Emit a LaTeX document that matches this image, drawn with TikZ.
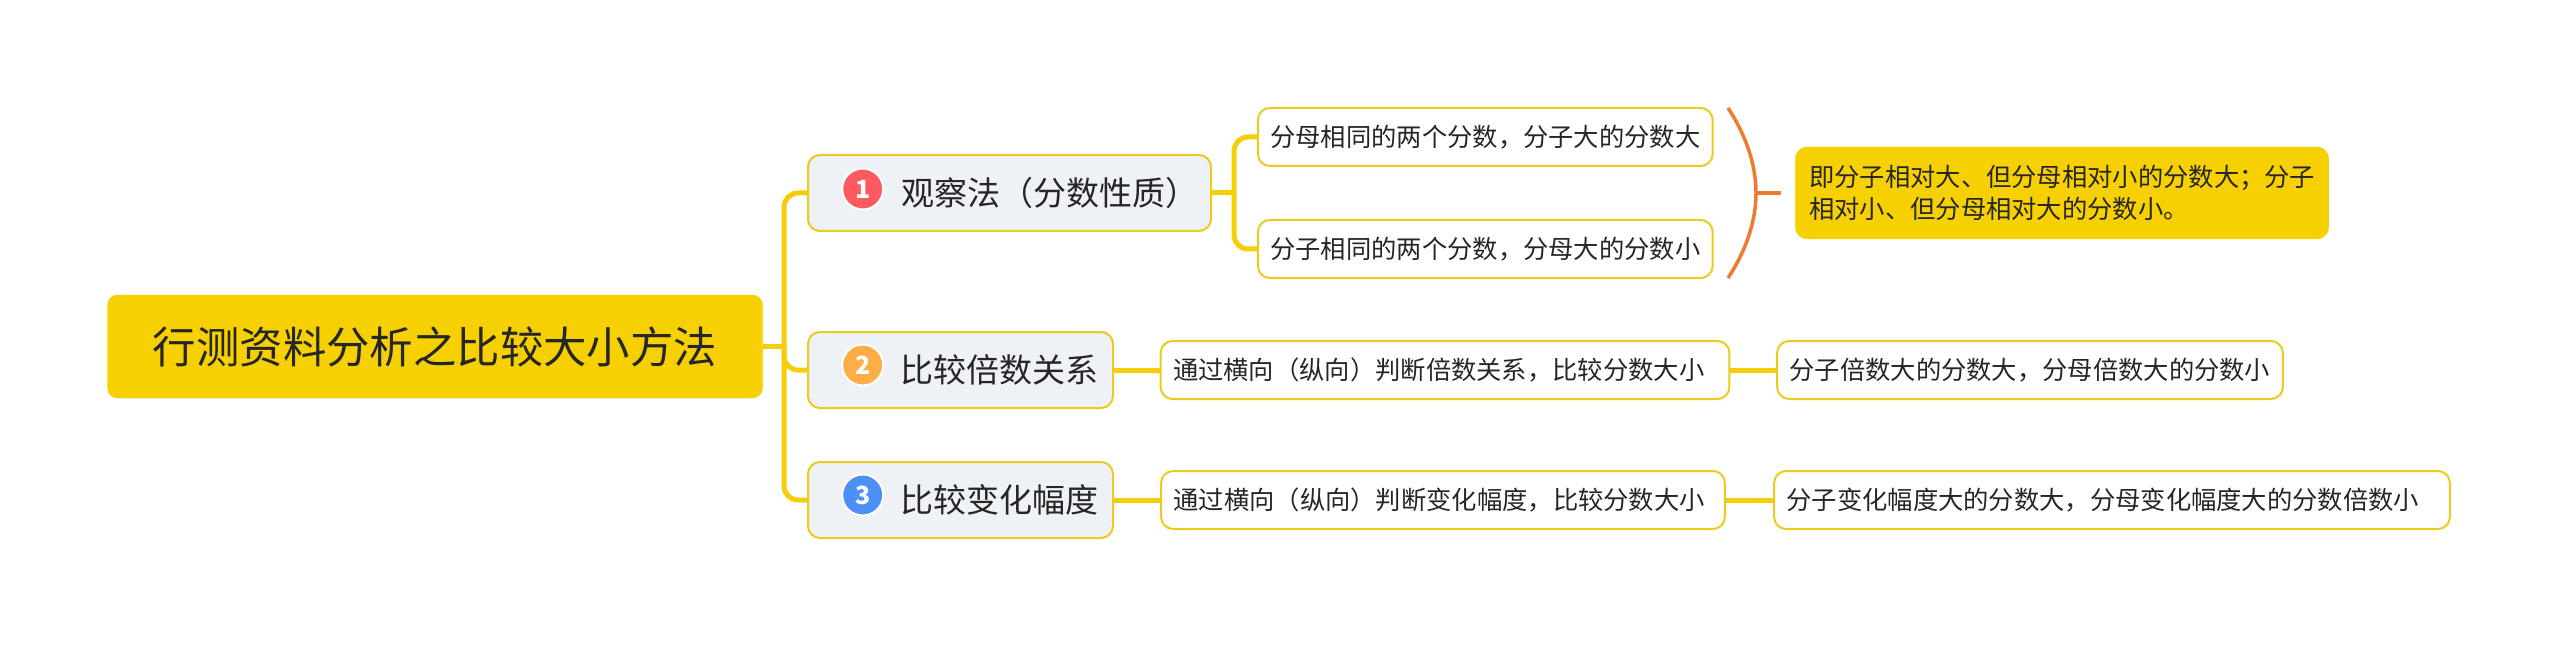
\documentclass[tikz,border=0pt]{standalone}
\usepackage{fontspec}
\setmainfont{Noto Sans CJK SC}
\definecolor{mapyellow}{HTML}{F6D000}
\definecolor{mapline}{HTML}{F5CE0A}
\definecolor{mapedge}{HTML}{EBCB1E}
\definecolor{mapgray}{HTML}{EEF1F5}
\definecolor{maptext}{HTML}{262626}
\definecolor{maporange}{HTML}{EE7B30}
\definecolor{badgered}{HTML}{FF5A5F}
\definecolor{badgeamber}{HTML}{FFAD47}
\definecolor{badgeblue}{HTML}{4C8FF7}

\begin{document}
\begin{tikzpicture}[
  x=1pt, y=-1pt,
  root/.style={rectangle, rounded corners=10pt, fill=mapyellow, draw=mapyellow,
               minimum width=655pt, minimum height=103pt, text=maptext,
               font=\fontsize{43.4}{50}\selectfont},
  branch/.style={rectangle, rounded corners=12pt, draw=mapedge, fill=mapgray, line width=2pt,
                 minimum height=76pt, align=right, text=maptext,
                 font=\fontsize{33}{40}\selectfont},
  leaf/.style={rectangle, rounded corners=12pt, draw=mapedge, fill=white, line width=2pt,
               minimum height=58pt, inner xsep=12.4pt, align=left, text=maptext,
               font=\fontsize{25.3}{32.7}\selectfont},
  note/.style={rectangle, rounded corners=12pt, fill=mapyellow, draw=mapyellow,
               minimum height=92pt, inner xsep=14pt, align=left, text=maptext,
               font=\fontsize{25.3}{32.7}\selectfont},
  badge/.style={circle, draw=white, line width=2pt, minimum size=41pt, inner sep=0pt,
                text=white, font=\fontsize{25}{25}\selectfont\bfseries},
  link/.style={line width=5pt, draw=mapline, rounded corners=14pt},
  bracket/.style={line width=3.5pt, draw=maporange}
]
\useasboundingbox (0,0) rectangle (2560,647);

% centre and first level
\node[root] (root) at (435,346.5) {行测资料分析之比较大小方法};
\node[branch, inner xsep=12.6pt, text width=377.8pt] (obs) at (1009.5,193) {观察法（分数性质）};
\node[branch, inner xsep=14.6pt, text width=275.8pt] (mul) at (960.5,370) {比较倍数关系};
\node[branch, inner xsep=14.6pt, text width=275.8pt] (chg) at (960.5,500) {比较变化幅度};
\node[badge, fill=badgered] (one) at (862.7,189) {1};
\node[badge, fill=badgeamber] (two) at (862.7,365) {2};
\node[badge, fill=badgeblue] (three) at (862.7,495) {3};

% fractions
\node[leaf, text width=430pt] (same1) at (1485.3,137) {分母相同的两个分数，分子大的分数大};
\node[leaf, text width=430pt] (same2) at (1485.3,249) {分子相同的两个分数，分母大的分数小};
\node[note, text width=505.5pt] (sum) at (2062,193) {即分子相对大、但分母相对小的分数大；分子\\相对小、但分母相对大的分数小。};

% second and third rows
\node[leaf, text width=544pt] (mulhow) at (1445,370) {通过横向（纵向）判断倍数关系，比较分数大小};
\node[leaf, text width=481pt] (mulres) at (2030,370) {分子倍数大的分数大，分母倍数大的分数小};
\node[leaf, text width=539pt] (chghow) at (1443,500) {通过横向（纵向）判断变化幅度，比较分数大小};
\node[leaf, text width=651pt] (chgres) at (2112,500) {分子变化幅度大的分数大，分母变化幅度大的分数倍数小};

% connectors
\coordinate (trunk) at (784,346.5);
\coordinate (fork) at (1234,193);
\draw[link] (root.east)--(trunk);
\draw[link] (trunk) |- (obs.west);
\draw[link] (trunk) |- (mul.west);
\draw[link] (trunk) |- (chg.west);
\draw[link] (obs.east)--(fork);
\draw[link] (fork) |- (same1.west);
\draw[link] (fork) |- (same2.west);
\draw[link] (mul.east)--(mulhow.west);
\draw[link] (mulhow.east)--(mulres.west);
\draw[link] (chg.east)--(chghow.west);
\draw[link] (chghow.east)--(chgres.west);

% bracket
\coordinate (btop) at (1728,108);
\coordinate (btip) at (1756,193);
\coordinate (bbot) at (1728,278);
\coordinate (bend) at (1781,193);
\draw[bracket] (btop) .. controls (1746,135) and (1756,165) .. (btip)
  .. controls (1756,221) and (1746,251) .. (bbot);
\draw[bracket] (btip)--(bend);
\end{tikzpicture}
\end{document}
